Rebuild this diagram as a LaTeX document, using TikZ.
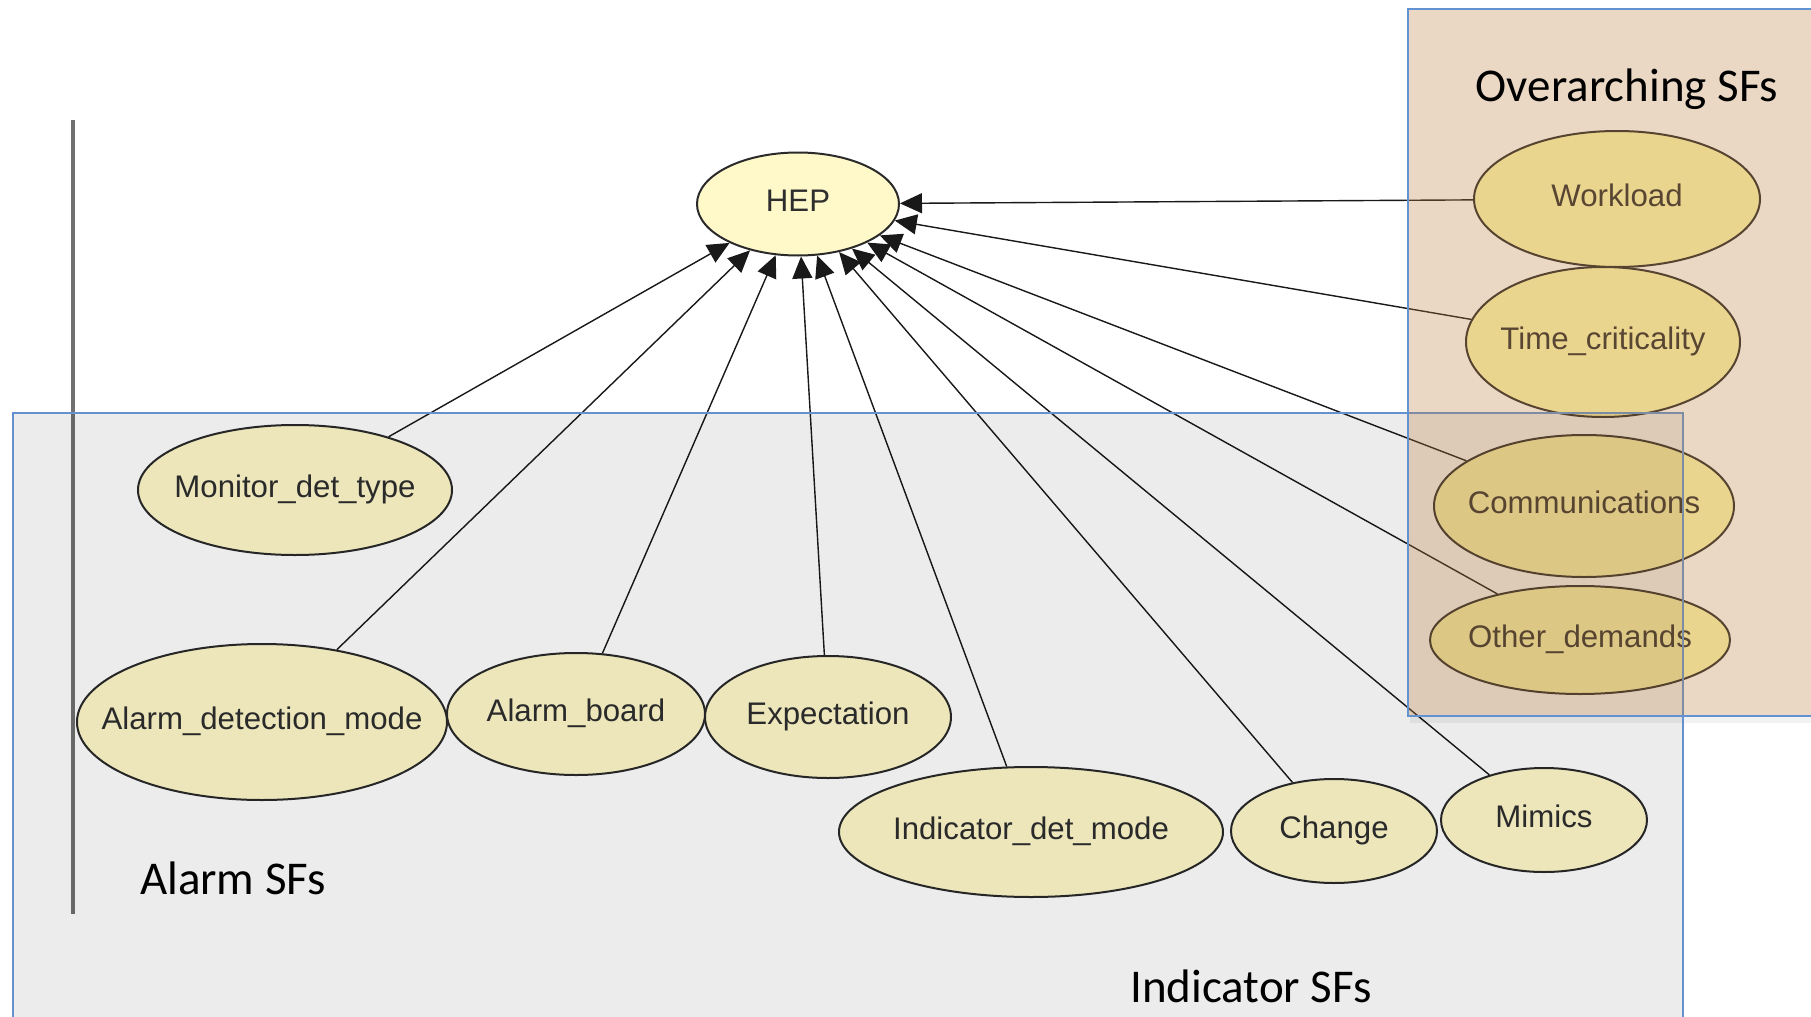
\documentclass[tikz,border=0pt]{standalone}
\usepackage{fontspec}
\setmainfont{Liberation Sans}
\newfontfamily\calib{Carlito}
\usetikzlibrary{arrows.meta,shapes.geometric}

\definecolor{nodefill}{HTML}{FFF9CA}
\definecolor{ovfill}{HTML}{FFFAB1}
\definecolor{nodeline}{HTML}{2A2A2A}
\definecolor{boxblue}{HTML}{6392D1}
\definecolor{tint}{RGB}{188,128,65}
\definecolor{rulegray}{HTML}{707070}

% the ellipse keeps its given size: the label takes no room of its own
% and is centred on the node by its capital height
\newcommand{\flatlabel}[1]{\makebox[0pt]{\raisebox{-0.25em}[0pt][0pt]{#1}}}

\tikzset{
  bn/.style 2 args={ellipse, draw=nodeline, line width=1pt, fill=nodefill,
    inner sep=0pt, minimum width=#1pt, minimum height=#2pt,
    font=\fontsize{15.6}{18}\selectfont, text=black!82},
  ov/.style={fill=ovfill},
  dep/.style={-{Triangle[length=11pt,width=10pt]}, line width=0.7pt, draw=black!90, fill=black},
  grouplabel/.style={font=\calib\fontsize{23.5}{28}\selectfont, text=black, inner sep=0pt},
  graybox/.style={fill=black, fill opacity=0.075, draw=boxblue, line width=1pt},
  tanbox/.style={fill=tint, fill opacity=0.3, draw=boxblue, line width=1pt},
  boxshadow/.style={draw=black, draw opacity=0.05, line width=1pt}
}

\begin{document}
\begin{tikzpicture}[x=0.5pt,y=-0.5pt]
  \useasboundingbox (0,0) rectangle (1811,1017);
  \clip (0,0) rectangle (1811,1017);
  \fill[white] (0,0) rectangle (1811,1017);

  % vertical rule on the left
  \draw[rulegray, line width=2pt] (73,120) -- (73,914);

  % nodes of the network
  \node[bn={101}{51.5}] (hep) at (798,204) {\flatlabel{HEP}};
  \node[bn={143}{68},ov] (work) at (1617,199) {\flatlabel{Workload}};
  \node[bn={137}{75},ov] (time) at (1603,342) {\flatlabel{Time\_criticality}};
  \node[bn={150}{71},ov] (comm) at (1584,506) {\flatlabel{Communications}};
  \node[bn={150}{54},ov] (other) at (1580,640) {\flatlabel{Other\_demands}};
  \node[bn={157}{65}] (mon) at (295,490) {\flatlabel{Monitor\_det\_type}};
  \node[bn={185}{78}] (adm) at (262,722) {\flatlabel{Alarm\_detection\_mode}};
  \node[bn={129}{61}] (board) at (576,714) {\flatlabel{Alarm\_board}};
  \node[bn={123}{61}] (expect) at (828,717) {\flatlabel{Expectation}};
  \node[bn={192}{65}] (idm) at (1031,832) {\flatlabel{Indicator\_det\_mode}};
  \node[bn={103}{52}] (change) at (1334,831) {\flatlabel{Change}};
  \node[bn={103}{52}] (mimics) at (1544,820) {\flatlabel{Mimics}};

  % influences on HEP
  \foreach \src in {work,time,comm,other,mon,adm,board,expect,idm,change,mimics}
    \draw[dep] (\src) -- (hep);

  % group boxes laid over the network, with a faint shadow
  \foreach \d in {2,4,6}
    \draw[boxshadow] (1410,716+\d) -- (1840,716+\d);
  \draw[graybox] (13,413) rectangle (1683,1040);
  \draw[tanbox] (1408,9) rectangle (1840,716);

  % group labels
  \node[grouplabel] (lov) at (1627,89) {Overarching SFs};
  \node[grouplabel] (lal) at (233,878) {Alarm SFs};
  \node[grouplabel] (lind) at (1251,986) {Indicator SFs};
\end{tikzpicture}
\end{document}
